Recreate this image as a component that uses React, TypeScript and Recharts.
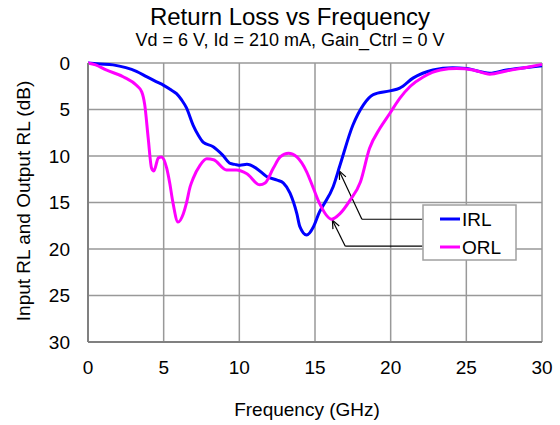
import { CartesianGrid, Line, LineChart, ReferenceLine, XAxis, YAxis } from "recharts"

// frequency (GHz) / return loss (dB)
const irlFreq = [0, 0.8, 1.65, 2.5, 3.2, 3.9, 4.5, 5.0, 5.5, 5.85, 6.2, 6.5, 6.95, 7.3, 7.6, 8.27, 8.9, 9.4, 9.7, 10.05, 10.5, 11.1, 11.8, 12.5, 12.9, 13.35, 13.8, 14.0, 14.45, 14.9, 15.3, 15.55, 16.2, 16.65, 17.5, 18.2, 18.85, 19.95, 20.6, 21.5, 22.8, 24.1, 25, 26.55, 27.65, 29.4, 30]
const irlLoss = [0, 0.1, 0.2, 0.5, 0.9, 1.5, 2.0, 2.4, 2.9, 3.3, 4.0, 4.8, 6.7, 7.8, 8.5, 9.0, 9.9, 10.8, 10.9, 11.0, 10.9, 11.3, 12.2, 12.6, 12.9, 14.0, 16.2, 17.6, 18.5, 17.6, 16.0, 15.3, 13.3, 11.0, 6.7, 4.5, 3.4, 3.0, 2.7, 1.6, 0.75, 0.5, 0.6, 1.1, 0.75, 0.4, 0.3]

const orlFreq = [0, 0.5, 1.2, 2.35, 3.2, 3.55, 3.75, 3.98, 4.2, 4.35, 4.65, 4.85, 5.2, 5.4, 5.6, 5.95, 6.3, 6.5, 6.75, 6.95, 7.4, 7.85, 8.3, 9.15, 9.8, 10.5, 11.35, 11.7, 12.25, 12.7, 13.25, 13.8, 14.45, 14.9, 15.3, 16.1, 16.65, 17.3, 18.0, 18.6, 19.3, 19.95, 20.6, 21.3, 22.15, 23.3, 24.35, 25.45, 26.55, 27.65, 29.2, 30]
const orlLoss = [0, 0.2, 0.75, 1.5, 2.4, 3.1, 4.5, 8.1, 11.3, 11.6, 10.2, 10.1, 11.3, 12.9, 14.9, 17.1, 16.2, 15.1, 13.3, 12.4, 11.0, 10.3, 10.4, 11.5, 11.5, 11.9, 13.1, 12.9, 11.3, 10.1, 9.7, 10.1, 11.7, 13.5, 15.1, 16.8, 16.2, 14.8, 12.8, 9.2, 7.0, 5.4, 3.8, 2.5, 1.5, 0.75, 0.6, 0.75, 1.2, 0.85, 0.4, 0.15]

const xTicks = [0, 5, 10, 15, 20, 25, 30]
const yTicks = [0, 5, 10, 15, 20, 25, 30]

const irlData = irlFreq.map((f, i) => ({ f, v: irlLoss[i] }))
const orlData = orlFreq.map((f, i) => ({ f, v: orlLoss[i] }))

const FONT = "'Liberation Sans', Arial, sans-serif"

function ArrowLine(props: any) {
  const { x1, y1, x2, y2 } = props
  const a = Math.atan2(y2 - y1, x2 - x1)
  const len = 9
  const spread = 0.4
  const ax = x2 - len * Math.cos(a - spread)
  const ay = y2 - len * Math.sin(a - spread)
  const bx = x2 - len * Math.cos(a + spread)
  const by = y2 - len * Math.sin(a + spread)
  return (
    <g>
      <line x1={x1} y1={y1} x2={x2} y2={y2} stroke="#000" strokeWidth={1.2} />
      <polyline points={`${ax},${ay} ${x2},${y2} ${bx},${by}`} fill="none" stroke="#000" strokeWidth={1.2} />
    </g>
  )
}

export default function App() {
  return (
    <div style={{ position: "absolute", left: 0, top: 0, width: 560, height: 425, background: "#fff", fontFamily: FONT }}>
      <LineChart width={560} height={425} margin={{ top: 63, right: 18, bottom: 53, left: 28 }}>
        <CartesianGrid stroke="#999" strokeWidth={1.5} />
        <XAxis
          type="number"
          dataKey="f"
          domain={[0, 30]}
          ticks={xTicks}
          height={30}
          tickLine={false}
          tickSize={6}
          tickMargin={13}
          axisLine={{ stroke: "#808080", strokeWidth: 2 }}
          tick={{ fontSize: 19, fill: "#000", fontFamily: FONT }}
          allowDuplicatedCategory={false}
        />
        <YAxis
          type="number"
          reversed
          domain={[0, 30]}
          ticks={yTicks}
          width={60}
          tickLine={false}
          tickSize={6}
          tickMargin={12}
          axisLine={{ stroke: "#808080", strokeWidth: 2 }}
          tick={{ fontSize: 19, fill: "#000", fontFamily: FONT }}
        />
        <ReferenceLine segment={[{ x: 18.1, y: 16.8 }, { x: 22.1, y: 16.8 }]} stroke="#000" strokeWidth={1.2} />
        <ReferenceLine segment={[{ x: 18.1, y: 16.8 }, { x: 16.6, y: 11.6 }]} shape={ArrowLine} />
        <ReferenceLine segment={[{ x: 17.0, y: 19.7 }, { x: 22.1, y: 19.7 }]} stroke="#000" strokeWidth={1.2} />
        <ReferenceLine segment={[{ x: 17.0, y: 19.7 }, { x: 16.15, y: 16.9 }]} shape={ArrowLine} />
        <Line data={irlData} dataKey="v" type="monotone" stroke="#0000ff" strokeWidth={3} dot={false} isAnimationActive={false} />
        <Line data={orlData} dataKey="v" type="monotone" stroke="#ff00ff" strokeWidth={3} dot={false} isAnimationActive={false} />
      </LineChart>
      <svg width={560} height={425} style={{ position: "absolute", left: 0, top: 0, pointerEvents: "none" }} fontFamily={FONT}>
        <text x={290} y={25} textAnchor="middle" fontSize={24}>Return Loss vs Frequency</text>
        <text x={290} y={46} textAnchor="middle" fontSize={18}>Vd = 6 V, Id = 210 mA, Gain_Ctrl = 0 V</text>
        <text x={307} y={416} textAnchor="middle" fontSize={19}>Frequency (GHz)</text>
        <text x={30} y={201} textAnchor="middle" fontSize={19} transform="rotate(-90, 30, 201)">Input RL and Output RL (dB)</text>
        <rect x={423} y={205} width={93} height={55} fill="#fff" stroke="#a0a0a0" strokeWidth={1.5} />
        <line x1={440} y1={219} x2={460} y2={219} stroke="#0000ff" strokeWidth={3} />
        <text x={462} y={226} fontSize={19}>IRL</text>
        <line x1={440} y1={247} x2={460} y2={247} stroke="#ff00ff" strokeWidth={3} />
        <text x={462} y={254} fontSize={19}>ORL</text>
      </svg>
    </div>
  )
}
